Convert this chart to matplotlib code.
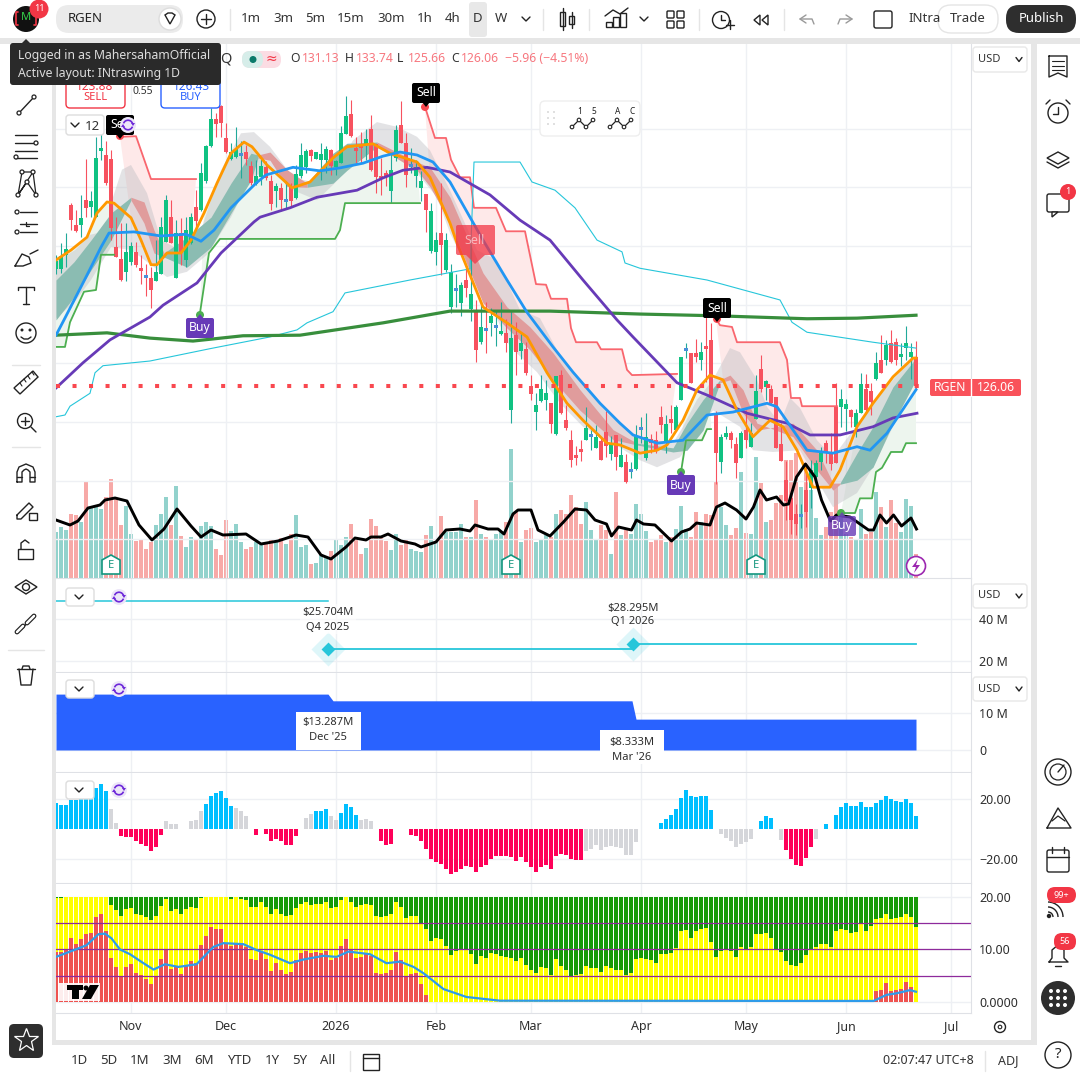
"""Daily RGEN chart screenshot rebuilt with matplotlib: candles, overlays, four lower panes, app chrome."""

import matplotlib

matplotlib.use("Agg")
import matplotlib.pyplot as plt  # noqa: E402
from matplotlib.patches import Arc, Circle, FancyBboxPatch, Polygon, Rectangle  # noqa: E402

plt.rcParams["font.family"] = ["Noto Sans", "DejaVu Sans"]

# ---- candles, one value per daily bar ----
OPEN = [146, 146, 148.5, 157, 153.6, 153.6, 157.8, 156.7, 155, 166.2,
        165.5, 164.8, 149.9, 147.7, 145.5, 147.3, 149, 146.2, 144.8, 144.5,
        144.1, 145.3, 150.7, 155, 144.6, 152.2, 147.6, 150.5, 156.7, 156.2,
        161.1, 167, 171.6, 173.8, 168.4, 164.8, 165.2, 165.3, 166, 163.6,
        160.6, 161.7, 163.4, 161, 159.4, 159.8, 157.5, 160, 158.1, 162,
        163.5, 166.4, 164.9, 164.7, 164.7, 166.4, 163.4, 164.2, 169.1, 172.5,
        166.6, 167.3, 167.3, 169.9, 167.3, 162, 162.4, 159.3, 165, 170.6,
        167.5, 163.4, 162, 159.8, 158.8, 149.2, 149, 152.2, 145.9, 139.6,
        142.3, 140.3, 144.2, 139.2, 138.8, 133.7, 135.6, 136.9, 136.1, 135,
        135.2, 122, 134.8, 132.1, 132.5, 126.1, 121.7, 123.6, 123.8, 123.3,
        117.9, 128, 120.4, 117, 114.4, 115.3, 117, 117.4, 115.6, 116.8,
        118.3, 114.5, 117.8, 112.4, 113.2, 111.5, 112, 118.7, 113.8, 117.1,
        117, 120.8, 116.6, 120.5, 118.6, 123.8, 132.1, 131.8, 131.7, 130.6,
        133, 134, 121.2, 113.2, 117.4, 118.2, 116.2, 113.8, 118.7, 115.8,
        120.6, 129.1, 126, 125.7, 124.2, 116.2, 110.2, 107, 104.4, 103.9,
        108.4, 108.7, 110.7, 113.2, 116.4, 114.9, 122.5, 122.6, 122.3, 122,
        119.2, 121.6, 125.7, 125.3, 127.3, 130.5, 130.6, 133.4, 133.7, 131.1,
        132.7, 131.1, 131.13]
HIGH = [148.5, 150.5, 152.2, 157.3, 156.1, 158.7, 164.9, 159.3, 168.6, 169.2,
        167.8, 166.4, 155, 153.9, 153.9, 150.7, 150.7, 148.5, 147, 146.5,
        151, 155, 158.7, 157.8, 154.4, 154.7, 155, 155.6, 159.6, 164.2,
        167.2, 173.5, 172.6, 174, 170.9, 167.5, 170.3, 167.8, 167.2, 164.4,
        164.6, 164.9, 164.4, 162.1, 160.7, 160.7, 161, 160.7, 163.8, 167.5,
        166.6, 166.5, 166, 167.5, 167, 166.6, 164.7, 170.5, 175.6, 174.9,
        168.6, 169.5, 169.9, 172.3, 167.3, 165, 163, 165.8, 170.6, 174.7,
        169.2, 166.7, 164.7, 162.7, 158.9, 157.3, 152.4, 160.7, 152.2, 147,
        145.3, 143.9, 146.2, 150.4, 140.8, 140.5, 140.5, 139.4, 139, 140.4,
        137.5, 139, 137.1, 135.1, 133.7, 128, 124.9, 128, 127.1, 123.3,
        127.8, 128.8, 122.9, 118.6, 115.9, 116.9, 122.5, 118.7, 119.5, 117.5,
        121.9, 117.6, 117.8, 117.2, 114.6, 113.2, 119.5, 120.9, 121.5, 118,
        118.5, 122.7, 121.2, 122.9, 122.9, 131, 133.4, 131.8, 134.1, 133.7,
        141.2, 136.8, 121.8, 117.9, 119.3, 118.5, 117.5, 118.4, 122, 119.8,
        128, 131.4, 127.2, 126.3, 124.3, 119.8, 113.4, 107.3, 106.1, 106.1,
        112.7, 113.5, 113.5, 115.8, 117, 118.1, 126.6, 125.7, 123.9, 122.3,
        122.3, 128.3, 128.2, 126.6, 132, 134.8, 133.9, 135.7, 134.3, 133.4,
        136.4, 133.4, 133.74]
LOW = [145.3, 145.4, 146.5, 152.7, 152.4, 151.6, 155, 155, 155, 164.7,
       160.4, 151, 148.2, 144, 144, 146.8, 146.5, 143.6, 141.4, 139.4,
       144, 145.2, 150.7, 150.5, 144.5, 146.8, 146.5, 150.3, 153.3, 156,
       160.7, 166.9, 168.6, 168.6, 165.8, 164.7, 165, 161.5, 163.8, 160.4,
       160.4, 160.4, 161.3, 156.1, 156.7, 156, 156.4, 156.7, 158, 161.5,
       162.5, 164.4, 164.8, 161.3, 162.4, 162.1, 162.1, 164.1, 169, 168.6,
       164.1, 164.1, 164.7, 162.7, 159, 158.7, 160.2, 157.3, 164.4, 167.6,
       160.1, 162.4, 160.1, 157.7, 152.4, 148.8, 146.8, 145, 145.6, 138.5,
       139.6, 138, 141.3, 137.2, 130.3, 133.3, 131.8, 134.6, 132.9, 134.9,
       132, 119.9, 128, 130.8, 128, 123.7, 118.6, 123.4, 122, 118.2,
       117.8, 121.3, 118.6, 112.4, 112.6, 113.4, 116.9, 115.2, 115.5, 113.5,
       114, 113.5, 111.8, 112.4, 109.6, 110.4, 111.8, 116.4, 113.5, 114.7,
       114.7, 118.1, 114.7, 118.1, 118.4, 123.7, 130.9, 126.7, 130.3, 128.9,
       126.9, 124, 109.4, 111.4, 117.1, 115.5, 110.4, 113.8, 115.5, 115.7,
       120.6, 125.2, 123.8, 122.9, 115.5, 113.4, 103.3, 101, 100.7, 102,
       102.2, 105.3, 109.8, 111.8, 113, 111.8, 113, 119.2, 118.4, 119.2,
       117.5, 121.5, 121.5, 121.2, 127.2, 128.3, 129.7, 130, 129.7, 129.6,
       130.6, 127.4, 125.66]
CLOSE = [147.5, 148.3, 149.4, 154.5, 152.5, 154.7, 156.4, 157.6, 165, 166.5,
         160.7, 153, 148.2, 144.2, 149, 150, 146.7, 145.7, 144.6, 142.5,
         145.6, 153.3, 157.8, 150.5, 152.2, 148.8, 152.7, 155, 154.2, 162.4,
         167, 171.6, 170.8, 171, 166, 166, 166.5, 165.6, 164.8, 160.7,
         162, 163.6, 161.5, 157.2, 160.3, 157.8, 157.6, 157.6, 162.3, 165.5,
         166.2, 165.4, 166, 165.7, 166.5, 163.7, 164.4, 169.2, 172.2, 168.8,
         166.2, 166.7, 168.2, 163, 161.7, 161.5, 162, 163, 169.8, 167.6,
         162.1, 163.5, 163.4, 161.1, 156.1, 156, 151, 150.2, 151, 145.5,
         142.3, 143.4, 142.9, 141.9, 132.2, 136.2, 135.5, 138, 136.2, 135.5,
         133.5, 134.4, 132, 133.4, 128.4, 124.8, 122.9, 125.7, 124.9, 119.6,
         127.8, 121.5, 119, 113.5, 113.8, 114.9, 119, 117.4, 117.4, 113.5,
         115.9, 116.2, 114, 114.4, 109.8, 111.6, 117.7, 118.8, 117.5, 116.5,
         115.1, 119.5, 119.7, 119.8, 122.6, 131, 132.2, 126.7, 131, 132,
         132.5, 124.1, 114.8, 117.4, 118.1, 117, 113, 118.2, 116.9, 118.1,
         125.3, 125.6, 127, 123.2, 115.5, 113.4, 106.6, 103.3, 102.7, 104,
         104.7, 111.8, 113.1, 114.9, 114.7, 112.8, 113, 123.9, 123.1, 120.9,
         121.6, 126.5, 122, 123.5, 130, 128.4, 133.2, 130.3, 130.6, 131.6,
         133.4, 132, 126.06]

VOLUME = [46, 51, 48, 64, 63, 56, 96, 71, 71, 69, 81, 99, 79, 53, 72, 44, 37, 39, 29, 36,
          53, 64, 81, 53, 92, 42, 31, 41, 38, 52, 56, 52, 29, 23, 58, 47, 54, 36, 29, 31,
          36, 33, 34, 39, 36, 40, 34, 44, 63, 31, 33, 14, 15, 24, 21, 27, 38, 33, 41, 54,
          39, 24, 30, 59, 52, 41, 37, 28, 44, 33, 39, 29, 27, 26, 43, 52, 36, 62, 46, 46,
          46, 54, 41, 41, 78, 44, 41, 38, 44, 46, 56, 129, 66, 36, 48, 50, 36, 38, 43, 41,
          64, 68, 64, 83, 71, 54, 76, 48, 39, 53, 48, 24, 86, 43, 48, 44, 74, 64, 47, 36,
          39, 43, 36, 41, 49, 72, 49, 41, 66, 56, 64, 63, 96, 71, 53, 43, 50, 106, 45, 44,
          121, 95, 56, 58, 75, 83, 118, 118, 125, 91, 129, 88, 60, 43, 51, 66, 91, 63, 44, 41,
          39, 69, 44, 46, 86, 71, 51, 78, 55, 46, 79, 72, 24]
VOL_MA_BAR = [0, 2.8, 4.4, 6.4, 8.8, 9.8, 11.8, 14.2, 16.6, 19.2, 21.6, 24.2, 27, 29, 31, 33.4, 38, 41,
              44.4, 48, 50.4, 53, 55, 58, 59.8, 62, 63, 65, 66.4, 69, 71.8, 73, 76, 78, 80.8, 82.8,
              83.8, 86.4, 88.4, 89.6, 91.4, 92.4, 95, 96.4, 98.8, 101.5, 103.8, 106.1, 107.8, 110.1,
              111.1, 112.5, 115.1, 116.1, 117.5, 119.8, 123.1, 125.1, 126.8, 128.1, 130.8, 132.1,
              133.8, 136.1, 138, 139.5, 140.8, 142.1, 144.1, 145.5, 146.5, 148.1, 149.9, 151.8,
              153.1, 154.9, 156.1, 158.8, 162.5, 163.5, 164.8, 166.1, 167.5, 169.1, 171, 172.1]
VOL_MA = [58, 53, 57, 70, 73, 78, 80, 77, 53, 38, 49, 69, 52, 41, 48, 43, 44, 34,
          37, 43, 41, 23, 19, 31, 40, 38, 41, 41, 44, 37, 34, 31, 36, 48, 49, 47,
          53, 49, 49, 44, 64, 68, 68, 48, 42, 56, 69, 68, 58, 54,
          42, 51, 48, 58, 54, 53, 37, 46, 49, 55, 53, 71,
          75, 68, 59, 71, 88, 78, 81, 73, 74, 101, 114, 101,
          78, 57, 63, 61, 48, 48, 63, 55, 63, 52, 60, 49]

# ---- moving averages and bands on the price pane: (bar, price) ----
BLUE_BAR = [0, 1.6, 6, 9, 10.6, 15.6, 21, 26, 29, 31.6, 35, 40, 42, 47.4, 52.8, 56.8, 61.4, 65.4, 68.8, 72.2,
            75.4, 78.8, 85.4, 90.2, 94.2, 99.4, 103.4, 108.8, 112.8, 115.4, 116.8, 120.2, 125.4, 130.2, 135.4,
            142.2, 144.2, 150.2, 155.4, 160.2, 162.8, 166.2, 172]
BLUE = [134.8, 137.4, 144.7, 149.8, 152.2, 152.4, 151.7, 152, 150.8, 152.7, 156.5, 160.7, 162.1, 163.4, 162.8,
        163.3, 164.1, 165.3, 166, 165.5, 164.3, 160.9, 151, 144.2, 138.7, 132.8, 128.5, 123.2, 119.8, 117.8,
        117.4, 116.4, 116.9, 121.2, 121.7, 123.2, 122.6, 115.2, 114.7, 115.8, 115.2, 118.1, 125.5]
ORANGE_BAR = [0, 3, 6.2, 8.2, 10.2, 11.6, 15, 17, 19, 20.2, 22.2, 25, 27, 29.6, 32.2, 35, 37.6, 39.2, 42.2, 47.2,
              50.8, 55.4, 58.2, 63.4, 66.8, 72.2, 74.8, 78.8, 80.2, 85.4, 90.2, 94.2, 98.2, 102.2, 105.4, 110.2,
              112.8, 116.8, 120.2, 122.2, 125.4, 128.2, 130.8, 133.4, 136.2, 139.4, 142.8, 145.4, 148.2, 151.4,
              154.8, 156.8, 160.2, 163.4, 167.4, 171.4, 172]
ORANGE = [147.6, 149.3, 151.5, 155.6, 157.5, 157.3, 154.8, 151, 146.8, 146.8, 148.8, 148.8, 151, 155.6, 160.7,
          165.8, 167.7, 166.9, 163.8, 159.9, 160.9, 165, 166.9, 167.4, 165.8, 164.3, 161.7, 153.9, 150.5, 139.6,
          136.9, 134.5, 128.4, 123.2, 120.3, 116.4, 116.1, 114.7, 115.2, 116.1, 120.3, 125.5, 128, 127.2, 122,
          117.5, 120.3, 119.2, 115.2, 108.9, 108.9, 111.8, 119.2, 123.2, 127.7, 130.9, 130.9]
PURPLE_BAR = [0, 5.4, 10.8, 18.8, 21.4, 28.2, 33, 39.6, 40.8, 46.8, 52.2, 60.2, 65.4, 69.4, 74.2, 78.8, 86.8, 92.8,
              98.8, 105.4, 112.2, 115.4, 124.2, 130.2, 138.2, 146.2, 150.8, 156.8, 163.4, 167.4, 172.2]
PURPLE = [125.8, 130.1, 134, 137.9, 139.9, 143.7, 148.8, 154.1, 154.9, 156.5, 158.3, 159.5, 161.6, 162.9, 163.4,
          162.6, 158.7, 154.4, 151, 144.2, 137.4, 134.5, 126.7, 124.6, 121.5, 119.8, 117.8, 117.8, 119.2, 120.7,
          121.5]
LONG_MA_BAR = [0, 10.2, 18.8, 27.4, 37.4, 48.8, 65.4, 78.8, 98.8, 116.8, 132.2, 150.2, 160.2, 172]
LONG_MA = [134.8, 135.2, 134.3, 133.8, 134.7, 134.8, 136.9, 138.9, 138.9, 138.4, 138.1, 137.6, 137.7, 138.2]
CYAN_BAR = [0, 1.8, 2.8, 6.8, 7.8, 9.4, 18.8, 30.8, 42.8, 48.2, 50.2, 55.4, 57.8, 70.8, 82.8, 83.6, 92.8, 95.2,
            99.8, 103.8, 108.2, 113.2, 113.8, 116.8, 130.2, 144.8, 147.2, 150.2, 163.4, 172]
CYAN = [120.9, 121.2, 122.7, 124.9, 128.4, 129.6, 130.4, 132.5, 134.5, 135.7, 136.9, 138.8, 142, 144.2, 146.1,
        164.3, 164.3, 160.9, 159.5, 156.5, 151, 149, 147.1, 146.2, 144.2, 140.8, 137, 135.3, 133.6, 132.6]

# trailing stops: one (bars, prices) pair per leg
RED_STOPS = [
    ([12.8, 16, 19, 28], [168.6, 168.7, 161.4, 161.4]),
    ([73.8, 75.8, 78, 79, 80.8, 82.8, 83.6, 88, 90, 93.8, 96, 98, 99, 102.2, 103, 104, 108.2, 109, 113.2, 114.2,
      115.2, 124.2],
     [173.7, 168.4, 168.4, 164.7, 161.7, 161.7, 156.5, 156.5, 152.5, 152.5, 143.5, 143.4, 141, 141, 136, 133.6,
      133.6, 132.4, 132.4, 128.9, 128, 128.2]),
    ([132, 132.8, 135.2, 136.2, 144.8, 146.2, 147, 148.8, 149.2, 156.2],
     [137.6, 136.5, 136.2, 133.6, 133.6, 130.6, 124.1, 124.1, 122.7, 122.7]),
]
GREEN_STOPS = [
    ([0, 1.8, 2.8, 5.6, 8, 9, 11.6], [132.8, 132.8, 137, 142.2, 142.5, 148.5, 148.5]),
    ([28.8, 30.6, 32.8, 55.8, 56.8, 57.8, 72.8], [138.6, 148.8, 151.2, 151.2, 152.7, 157.3, 157.3]),
    ([125, 126, 129.2, 130.2, 131], [111.5, 116.9, 116.9, 118.8, 118.8]),
    ([157, 159.8, 160.8, 163.2, 164, 165.2, 167, 169.2, 170, 172],
     [104.5, 104.5, 107, 107, 111.5, 112.2, 114.9, 114.9, 116.4, 116.4]),
]

# grey envelope around the ribbon
ENV_UP_BAR = [0, 3.8, 6.8, 10.8, 11.2, 13.2, 15, 18.2, 21, 26, 28.2, 33, 37, 39.6, 42.8, 47.4, 53.4, 55.8, 59.4, 64.2,
              68.2, 72.2, 74.8, 78.8, 84.2, 88.2, 92.8, 96.8, 100.2, 104.8, 110.2, 115.4, 116.8, 123.4, 125.4, 128.2,
              131.4, 134.8, 136.8, 140.2, 142.2, 144.8, 146.8, 148.8, 152.2, 155.4, 163.4, 167.4, 172]
ENV_UP = [147.3, 149.3, 151.9, 152.7, 157.8, 163, 163.8, 159, 151, 148.8, 150.7, 162.9, 169.2, 169.4, 166.9, 161.7,
          160.4, 162.4, 168, 171.1, 170.3, 168.6, 166.3, 159.5, 149.3, 147.6, 139.1, 137.7, 132.3, 127.2, 121.5,
          118.1, 117.4, 116.4, 119.2, 123.8, 127.2, 132.6, 131.9, 127.2, 122.6, 119.8, 124.1, 122.4, 116.9, 114,
          123.2, 127.2, 131.4]
ENV_LO_BAR = [172, 167.4, 163.4, 160.2, 155.4, 152.2, 148.8, 143.4, 139.4, 136.8, 131.4, 128.2, 124.8, 120.2, 116.8,
              111.4, 105.4, 100.8, 96.2, 90.8, 86.2, 80.8, 78.8, 76.2, 72.2, 65.4, 60.8, 55.4, 52.2, 47.4, 42.8,
              39, 35, 30.2, 26.2, 22.2, 19, 15, 11, 7, 3.6, 0]
ENV_LO = [127.2, 119.2, 112.3, 107.9, 105.5, 110.1, 115.2, 114.9, 115.2, 119.2, 122, 118.1, 114, 112.3, 113.5, 116.4,
          119.2, 123.2, 128.5, 132.8, 141.3, 148.8, 152.2, 158.3, 162.4, 166.9, 165.2, 160.4, 157.8, 159.5, 162.9,
          161.7, 154.9, 148.5, 145.6, 144.7, 146.8, 149.3, 149.8, 144.2, 140.3, 137.7]

# ribbon legs: bars, upper edge, lower edge
TEAL_LEGS = [
    ([0, 3.6, 7, 11, 15], [144.2, 147.3, 151, 155.6, 158.3], [137.4, 141.3, 145.9, 151, 157.8]),
    ([21.6, 26.2, 31, 35, 39, 40.4], [148.8, 151.5, 154.9, 160.7, 165.8, 165.5], [148.1, 146.4, 149.8, 155.6, 161.2, 165]),
    ([50.2, 55.4, 58.2, 64.2], [160.7, 165.8, 167.5, 167.7], [160, 160.7, 162.9, 166.9]),
    ([116.2, 123.4, 126.2, 129.4, 132.8], [116.4, 115.6, 119.8, 123.8, 127.2], [116.1, 114.9, 115.2, 118.6, 126.7]),
    ([156.8, 160.2, 163.4, 167.4, 172], [109.6, 114.7, 119.2, 126, 130.9], [109.4, 110.1, 112.3, 119.8, 127.2]),
]
ROSE_LEGS = [
    ([15, 17.6, 19.6, 21.6], [158.3, 157.5, 152.7, 148.8], [157.8, 153.9, 148.8, 148.1]),
    ([40.4, 42.8, 46.2, 50.2], [165.5, 166, 163, 160.7], [165, 164.6, 160.1, 160]),
    ([64.2, 72.2, 74.8, 78.8, 85.4, 90.2, 94.8, 99.4, 104.8, 111.4, 116.2],
     [167.7, 164.3, 163.4, 158.3, 145.4, 139.6, 136.2, 131.8, 125.5, 118.7, 116.4],
     [166.9, 162.9, 160.1, 153.9, 140.3, 136, 132.3, 127.2, 122, 117, 116.1]),
    ([132.8, 134.8, 137.4, 140.2, 142.8], [127.2, 128, 125.5, 119.8, 119], [126.7, 127.2, 121.5, 118.6, 119]),
    ([142.8, 147.4, 152.2, 155.4, 156.8], [119, 119.8, 115.2, 109.6, 109.6], [119, 117.5, 111.8, 108.4, 109.4]),
]

LAST_PRICE = 126.06
PRICE_TICKS = [100, 110, 120, 130, 140, 150, 160, 170]
MONTH_BARS = [15, 34, 56, 76, 95, 117, 138, 158, 179]
MONTH_LABELS = ["Nov", "Dec", "2026", "Feb", "Mar", "Apr", "May", "Jun", "Jul"]

# ---- revenue and net income steps ----
REVENUE_OLD_BAR = [0, 54.4]
REVENUE_OLD = [48.6, 48.6]
REVENUE_BAR = [54.4, 115.4, 115.4, 172]
REVENUE = [25.704, 25.704, 28.295, 28.295]
REVENUE_MARK_BAR = [54.4, 115.4]
REVENUE_MARK = [25.704, 28.295]
INCOME_BAR = [0, 54.4, 55.4, 115.2, 116, 172]
INCOME = [15.1, 15.1, 13.287, 13.287, 8.333, 8.333]

# ---- momentum histogram ----
MOMENTUM = [17.3, 16.2, 16.2, 19.6, 19.6, 20.7, 21, 23, 27, 30, 25, 13.6, 4, -4.4, -5.6, -5.6, -7.8, -9.8, -11.6, -14.4,
            -12.2, -4.2, 5.1, 3.6, 3.6, 0, 0, 5.6, 6.2, 11.8, 16.9, 21.8, 24, 25.6, 20.9, 15.6, 14, 11.8, 8.9, 0,
            -3.8, 0, -3.1, -8.2, -6.7, -8.2, -11, -11, -4.9, 0, 7.3, 10.2, 12.2, 12.2, 13.6, 8.9, 6.2, 10.9, 16.9, 14.4,
            9.6, 6.2, 6.9, 5.1, 0, -7.8, -11, -9.8, 0, 0, 0, -3.8, -4.4, -8.2, -13.1, -19.8, -22, -23.3, -26.4, -29.8,
            -28.9, -26.7, -24.4, -25.3, -28.9, -25.3, -24.2, -19.8, -17.8, -17.8, -17.8, -18.7, -21.1, -18.9, -22.2,
            -25.6, -28.9, -25.6, -24.2, -26.4, -17.8, -16.4, -17.1, -19.8, -20.9, -20.4, -14.9, -13.1, -11, -13.8,
            -11.8, -11.3, -12, -12.7, -17.1, -17.1, -8.9, 0, 0, 0, 0, 4, 6.7, 9.6, 13.3, 20.9, 26.2, 22.2, 21.3, 22.2,
            22.2, 12.9, 0, -3.3, -6, -8.2, -12.2, -9.8, -8.9, -6.7, 0, 5.6, 8.9, 7.6, 0, -7.1, -13.8, -19.8, -23.8,
            -24.4, -19.1, -12.2, -6.4, 0, 3.6, 0, 9.6, 14.9, 17.3, 15.6, 15.6, 18.2, 14.9, 14.9, 17.3, 19.6, 22.2, 20.2,
            18.9, 18.2, 20.2, 17.6, 8.9]
MOMENTUM_GREY = [11, 12, 22, 23, 24, 27, 28, 29, 36, 37, 38, 50, 51, 55, 56, 61, 62, 63,
                 106, 107, 108, 109, 110, 111, 112, 113, 114, 115, 116,
                 133, 134, 135, 136, 137, 138, 139, 145, 152]

# ---- stacked column oscillator, red from zero, yellow above it, green up to 20 ----
STACK_RED = [9.6, 9.6, 9.9, 12.1, 11, 12, 13, 13.1, 16.1, 16.7, 13.5, 8.3, 6.6, 4.9, 6.6, 7.3, 5.5, 5.2, 4.5, 3.5,
             4.9, 8.2, 10, 6.3, 6.9, 5.4, 7.1, 7.8, 7.4, 10.8, 12.6, 14.2, 13.9, 13.9, 11.3, 10.7, 11.2, 11.2, 10.5, 8.2,
             8, 9.6, 8.2, 5.9, 7.5, 6.1, 5.4, 5.7, 8, 9.4, 9.7, 9.3, 9.5, 9.3, 9.8, 8.1, 8.3, 10.7, 12, 9.9,
             8.3, 8.6, 9.3, 8.8, 5.6, 5.4, 5.6, 6.1, 9.6, 8.1, 4.9, 5.4, 5.6, 3.5, 1.4] + [0.1] * 89 + \
            [2.1, 2.3, 3.6, 2.1, 2.3, 2.6, 3.8, 2.9, 0.1]
STACK_YELLOW = [19.7, 19.7, 20, 20, 20, 20, 20, 20, 20, 20, 20, 18.4, 17.5, 16.4, 17.6, 17.9, 16.7, 16.5, 16.1, 15.6,
                16.4, 18.3, 19.5, 17.2, 17.7, 16.7, 17.7, 18.1, 17.9, 19.8, 20, 20, 20, 20, 20, 19.6, 20, 19.6, 19.4, 18.1,
                18.1, 18.9, 18.1, 16.7, 17.7, 16.8, 16.4, 16.5, 17.9, 18.6, 19, 18.5, 18.7, 18.6, 18.9, 17.9, 18.1, 19.4, 20, 19,
                18.1, 18.4, 18.7, 18.4, 16.3, 16.2, 16.4, 16.7, 18.9, 18, 16, 16.3, 16.4, 15, 13.8, 11.6, 12.1, 12, 10.7, 9,
                9.7, 10, 9.9, 9.1, 7.3, 8.8, 8.3, 9.4, 9.2, 8.8, 8.6, 8.3, 7.8, 8.3, 7.1, 6.1, 5.5, 6.6, 6.4, 5.2,
                8.2, 6.8, 6.1, 4.9, 5.2, 5.4, 6.9, 6.5, 6.4, 5.7, 6.8, 6.5, 6.1, 6.1, 5.2, 5.6, 8.2, 8.4, 8.2, 8,
                7.5, 9.2, 9.2, 9.4, 10.3, 13.5, 13.7, 12.2, 13.5, 13.9, 14.1, 11.4, 8.6, 9.8, 9.9, 9.7, 8.6, 10.5, 10.1, 10.5,
                12.9, 12.9, 13.1, 12.2, 9.9, 9.5, 7.8, 7.1, 6.9, 7.4, 9, 9.9, 10.5, 11, 11, 10.5, 13.5, 13.9, 13.7, 13.1,
                13.3, 14.8, 13.5, 14.4, 15.8, 16, 16.7, 15.8, 16, 16.2, 16.7, 16.2, 14.3]
STACK_LINE_BAR = [0, 2.8, 6.1, 8.5, 9.8, 11.1, 12.8, 14.8, 17.5, 19.5, 21.8, 24.5, 28.1, 31.5, 33.5, 37.5, 40.1, 42.8,
                  46.8, 49.5, 53.5, 56.1, 58.5, 62.8, 66.1, 68.8, 71.5, 73.5, 77.5, 82.1, 88.8, 163.5, 166.1, 168.1,
                  170.8, 172]
STACK_LINE = [8.6, 9.6, 10.8, 12.9, 13, 12.1, 10, 9.1, 7.4, 6.2, 7.2, 6.7, 7.2, 10.5, 11.2, 11, 9.9, 9, 7.4, 8.1, 8.8,
              8.6, 9.6, 9.1, 7.4, 7.7, 6.7, 5.5, 2.5, 1, 0.3, 0.25, 1.4, 1.7, 2.3, 2]
STACK_LEVELS = [15, 10, 5]

FIG_PX = 1080
GRID = "#eef0f4"
LABEL = "#2e2e2e"
SEP = "#e6e6e6"
UP = "#10c282"
UP_WICK = "#22a99a"
DOWN = "#f7525f"
ICON = "#222222"

fig = plt.figure(figsize=(10.8, 10.8), dpi=100, facecolor="white")


def pane(top, bottom, ylim, ticks, labels):
    """Axes sharing one bar scale, placed between two pixel rows, with the scale on the right."""
    ax = fig.add_axes([56 / FIG_PX, 1 - bottom / FIG_PX, 915 / FIG_PX, (bottom - top) / FIG_PX])
    ax.set_xlim(0, 183)
    ax.set_ylim(*ylim)
    ax.yaxis.tick_right()
    ax.set_yticks(ticks, labels, fontsize=9, color=LABEL)
    ax.set_xticks(MONTH_BARS, [])
    ax.tick_params(length=0, pad=6)
    ax.grid(True, color=GRID, lw=1)
    ax.set_axisbelow(True)
    for side in ax.spines:
        ax.spines[side].set_visible(False)
    ax.spines["right"].set_visible(True)
    ax.spines["right"].set_color("#dfe1e6")
    ax.spines["bottom"].set_visible(True)
    ax.spines["bottom"].set_color("#dfe1e6")
    return ax


def zone(ax, bars, prices, color):
    """Pale fill between a stop leg and the fast average."""
    back = [(b, p) for b, p in zip(ORANGE_BAR, ORANGE) if bars[0] <= b <= bars[-1]]
    xs = list(bars) + [b for b, _ in reversed(back)]
    ys = list(prices) + [p for _, p in reversed(back)]
    ax.fill(xs, ys, color=color, lw=0, zorder=1.4)


# ---- price pane ----
vol_ax = fig.add_axes([56 / FIG_PX, 1 - 578 / FIG_PX, 915 / FIG_PX, 536 / FIG_PX])
vol_ax.set_xlim(0, 183)
vol_ax.set_ylim(0, 536)
vol_ax.axis("off")
vol_ax.set_zorder(1)

price = pane(42, 578, (93.43, 184.75), PRICE_TICKS, [f"{p:.2f}" for p in PRICE_TICKS])
price.set_zorder(2)
price.patch.set_alpha(0)

bars = list(range(len(CLOSE)))
vol_colors = ["#92d2cc" if c >= o else "#f7a9a7" for o, c in zip(OPEN, CLOSE)]
vol_ax.bar(bars, VOLUME, width=0.76, color=vol_colors, lw=0)

for leg_bars, leg_prices in RED_STOPS:
    zone(price, leg_bars, leg_prices, "#fee9e9")
for leg_bars, leg_prices in GREEN_STOPS:
    zone(price, leg_bars, leg_prices, "#edf5ee")
price.fill(ENV_UP_BAR + ENV_LO_BAR, ENV_UP + ENV_LO, color="#bdbdc2", alpha=0.42, lw=0, zorder=1.5)
for leg_bars, upper, lower in TEAL_LEGS:
    price.fill_between(leg_bars, upper, lower, color="#8bbcb2", lw=0, zorder=1.6)
for leg_bars, upper, lower in ROSE_LEGS:
    price.fill_between(leg_bars, upper, lower, color="#e09c9c", lw=0, zorder=1.6)

for i, (o, h, l, c) in enumerate(zip(OPEN, HIGH, LOW, CLOSE)):
    doji = abs(c - o) <= 0.3
    wick = UP_WICK if c >= o else DOWN
    body = "#4a90d9" if doji else (UP if c >= o else DOWN)
    price.vlines(i, l, h, color=wick, lw=0.8, zorder=2)
    price.bar(i, max(abs(c - o), 0.5), bottom=min(o, c), width=0.62, color=body, lw=0, zorder=2.1)

for leg_bars, leg_prices in RED_STOPS:
    price.plot(leg_bars, leg_prices, color="#f9666e", lw=1.3, zorder=2.5)
for leg_bars, leg_prices in GREEN_STOPS:
    price.plot(leg_bars, leg_prices, color="#4caf50", lw=1.3, zorder=2.5)
price.plot(CYAN_BAR, CYAN, color="#26c6da", lw=0.8, zorder=2.6)
price.plot(LONG_MA_BAR, LONG_MA, color="#388e3c", lw=2.3, zorder=2.7)
price.plot(PURPLE_BAR, PURPLE, color="#673ab7", lw=2, zorder=2.8)
price.plot(ORANGE_BAR, ORANGE, color="#ff9800", lw=2, zorder=2.9)
price.plot(BLUE_BAR, BLUE, color="#2196f3", lw=2, zorder=3)
price.axhline(LAST_PRICE, color="#f9484f", lw=2.9, ls=(0, (1, 3.1)), zorder=3.1)

line_ax = price.twinx()
line_ax.set_ylim(0, 536)
line_ax.axis("off")
line_ax.plot(VOL_MA_BAR, VOL_MA, color="black", lw=2.1, zorder=5)

# ---- revenue pane ----
rev = pane(579, 672, (14.76, 59.05), [20, 40], ["20 M", "40 M"])
rev.plot(REVENUE_OLD_BAR, REVENUE_OLD, color="#26c6da", lw=1.1)
rev.plot(REVENUE_BAR, REVENUE, color="#26c6da", lw=1.3)
rev.scatter(REVENUE_MARK_BAR, REVENUE_MARK, marker="D", s=300, color="#26c6da", alpha=0.15, lw=0, zorder=3)
rev.scatter(REVENUE_MARK_BAR, REVENUE_MARK, marker="D", s=50, color="#26c6da", lw=0, zorder=4)

# ---- net income pane ----
income = pane(673, 772, (-5.95, 20.8), [0, 10], ["0", "10 M"])
income.fill_between(INCOME_BAR, INCOME, 0, color="#2962ff", lw=0, zorder=2)

# ---- momentum pane ----
mom = pane(773, 883, (-36, 37.33), [-20, 20], ["\u221220.00", "20.00"])
mom_colors = ["#d5d6da" if i in MOMENTUM_GREY else ("#00bfff" if v > 0 else "#ff0059") for i, v in enumerate(MOMENTUM)]
mom.bar(bars, MOMENTUM, width=0.76, color=mom_colors, lw=0, zorder=2)

# ---- stacked pane ----
stack = pane(884, 1013, (-2.03, 22.4), [0, 10, 20], ["0.0000", "10.00", "20.00"])
stack.bar(bars, [20] * len(bars), width=0.76, color="#169a07", lw=0, zorder=2)
stack.bar(bars, STACK_YELLOW, width=0.76, color="#ffff00", lw=0, zorder=2.1)
stack.bar(bars, STACK_RED, width=0.76, color="#ef5350", lw=0, zorder=2.2)
for level in STACK_LEVELS:
    stack.axhline(level, color="#8e2a9c", lw=0.9, zorder=2.5)
stack.plot(STACK_LINE_BAR, STACK_LINE, color="#2e9bea", lw=1.6, zorder=3)
stack.set_xticks(MONTH_BARS, MONTH_LABELS, fontsize=9, color=LABEL)
stack.tick_params(axis="x", pad=5)
stack.get_xticklabels()[2].set_fontweight("bold")

# ---- chrome, drawn in screen pixels on a top layer ----
ui = fig.add_axes([0, 0, 1, 1], zorder=10)
ui.set_xlim(0, FIG_PX)
ui.set_ylim(FIG_PX, 0)
ui.axis("off")
ui.patch.set_alpha(0)


def box(x0, y0, x1, y1, fc="white", ec="none", r=0, lw=1, alpha=1, z=3):
    if r:
        patch = FancyBboxPatch((x0 + r, y0 + r), x1 - x0 - 2 * r, y1 - y0 - 2 * r, boxstyle=f"round,pad={r}",
                               fc=fc, ec=ec, lw=lw, alpha=alpha, zorder=z)
    else:
        patch = Rectangle((x0, y0), x1 - x0, y1 - y0, fc=fc, ec=ec, lw=lw, alpha=alpha, zorder=z)
    ui.add_patch(patch)


def line(xs, ys, color=ICON, lw=1, z=4):
    ui.plot(xs, ys, color=color, lw=lw, zorder=z, solid_capstyle="round")


def ring(x, y, r, ec=ICON, fc="none", lw=1, z=4):
    ui.add_patch(Circle((x, y), r, fc=fc, ec=ec, lw=lw, zorder=z))


def label(x, y, s, size=9, color=LABEL, ha="center", weight="normal", z=5, alpha=1):
    ui.text(x, y, s, fontsize=size, color=color, ha=ha, va="center", fontweight=weight, zorder=z, alpha=alpha)


def chevron(x, y, w=4, color=ICON):
    line([x - w, x, x + w], [y - 2, y + 2, y - 2], color=color, lw=1)


def sync_icon(x, y, z=6):
    ring(x, y, 8, ec="none", fc="#ece6f8", z=z)
    for start in (20, 200):
        ui.add_patch(Arc((x, y), 9.5, 9.5, theta1=start, theta2=start + 140, color="#6d28d9", lw=1.2, zorder=z + 1))
    ui.add_patch(Polygon([(x + 3, y - 2), (x + 7, y - 2), (x + 5, y + 1)], fc="#6d28d9", ec="none", zorder=z + 1))
    ui.add_patch(Polygon([(x - 3, y + 2), (x - 7, y + 2), (x - 5, y - 1)], fc="#6d28d9", ec="none", zorder=z + 1))


def bubble(x, y, s, fc="#673ab7", up=True, w=14, alpha=1):
    """Signal label with a small pointer towards its dot."""
    box(x - w, y - 10, x + w, y + 10, fc=fc, r=2, alpha=alpha, z=6)
    tip = y - 14 if up else y + 14
    base = y - 9 if up else y + 9
    ui.add_patch(Polygon([(x - 4, base), (x + 4, base), (x, tip)], fc=fc, ec="none", zorder=6, alpha=alpha))
    label(x, y, s, size=8.8, color="white", z=7)


# frame
box(0, 38, FIG_PX, 44, fc=SEP)
box(52, 38, 56, 1045, fc=SEP)
box(1031, 38, 1037, 1045, fc=SEP)
box(52, 1040, 1037, 1045, fc=SEP)
box(0, 0, FIG_PX, 38, z=2)
box(0, 38, 52, FIG_PX, z=2)
box(1037, 38, FIG_PX, FIG_PX, z=2)
box(0, 1045, FIG_PX, FIG_PX, z=2)
box(1028, 44, 1031, 1040, z=2)

# top bar
ring(26, 19, 13, ec="none", fc="#111111")
label(26, 18, "M", size=8, color="#35d04a", weight="bold")
line([18, 16, 16, 18], [12, 12, 25, 25], color="#f23645", lw=1.2, z=6)
line([34, 36, 36, 34], [12, 12, 25, 25], color="#f23645", lw=1.2, z=6)
ring(39, 9, 9.5, ec="none", fc="#f23645", z=5)
label(39, 8.5, "11", size=6.5, color="white", z=6)
box(56, 5, 183, 33, fc="#ebebeb", r=13)
label(68, 19, "RGEN", size=9.5, color="#222222", ha="left", weight="bold")
ring(170, 19, 11, ec="#dddddd", fc="white")
ui.add_patch(Polygon([(165, 15), (168, 13), (172, 13), (175, 15), (170, 24)], fc="none", ec=ICON, lw=1, zorder=5))
ring(206, 19, 9, lw=1)
line([201, 211], [19, 19])
line([206, 206], [14, 24])
line([230, 230], [9, 30], color="#e5e5e5")
box(469, 2, 487, 37, fc="#e8e8e8", r=3)
for x, s in zip([251, 283, 315, 351, 391, 425, 453, 477, 501],
                ["1m", "3m", "5m", "15m", "30m", "1h", "4h", "D", "W"]):
    label(x, 19, s, size=9.5, color="#333333")
chevron(526, 19)
line([543, 543], [9, 30], color="#e5e5e5")
box(560, 12, 565, 26, fc="white", ec=ICON)
line([562.5, 562.5], [8, 30])
box(569, 16, 574, 24, fc="white", ec=ICON)
line([571.5, 571.5], [12, 28])
line([589, 589], [9, 30], color="#e5e5e5")
for x0, y0 in [(606, 22), (613, 17), (620, 13)]:
    box(x0, y0, x0 + 6, 27, fc="white", ec=ICON)
line([605, 613, 620, 628], [16, 10, 14, 8])
chevron(644, 19)
for x0, y0 in [(667, 11), (677, 11), (667, 21), (677, 21)]:
    box(x0, y0, x0 + 7, y0 + 7, fc="white", ec=ICON, r=1)
line([699, 699], [9, 30], color="#e5e5e5")
ring(721, 20, 8.5)
line([721, 721, 725], [15, 20, 20])
line([730, 730], [20, 29])
line([726, 734], [25, 25])
ui.add_patch(Polygon([(754, 20), (760, 15), (760, 25)], fc="white", ec=ICON, lw=1, zorder=4))
ui.add_patch(Polygon([(762, 20), (768, 15), (768, 25)], fc="white", ec=ICON, lw=1, zorder=4))
line([784, 784], [9, 30], color="#e5e5e5")
line([806, 800, 806], [15, 19, 23], color="#9a9a9a")
line([800, 812, 814], [19, 19, 24], color="#9a9a9a")
line([846, 852, 846], [15, 19, 23], color="#9a9a9a")
line([852, 840, 838], [19, 19, 24], color="#9a9a9a")
box(874, 11, 892, 28, fc="white", ec=ICON, r=2)
label(908, 19, "INtra", size=9.5, color="#333333", ha="left")
box(938, 5, 998, 33, fc="white", ec="#e5e5e5", r=13)
label(968, 19, "Trade", size=9.5, color="#333333")
box(1006, 5, 1076, 33, fc="#2e2e2e", r=13)
label(1041, 19, "Publish", size=9.5, color="white")

# legend row
label(226, 59, "Q", size=10.5, color="#333333")
box(242, 51, 281, 68, fc="#fbdce3", r=8)
box(242, 51, 263, 68, fc="#d6ede9", r=8)
ring(253, 59.5, 3.5, ec="none", fc="#0b7a6a")
label(271, 59, "\u2248", size=10, color="#f23645")
for x, s, c in [(290, "O", "#333333"), (302, "131.13", "#f7777f"), (345, "H", "#333333"), (356, "133.74", "#f7777f"),
                (397, "L", "#333333"), (408, "125.66", "#f7777f"), (451, "C", "#333333"), (461, "126.06", "#f7777f"),
                (505, "\u22125.96 (\u22124.51%)", "#f7777f")]:
    label(x, 59, s, size=8.8, color=c, ha="left")

# buy and sell buttons under the login tip
box(66, 80, 125, 108, fc="white", ec="#f23645", r=4)
box(161, 80, 220, 108, fc="white", ec="#2962ff", r=4)
label(95, 98, "SELL", size=8, color="#f23645")
label(191, 98, "BUY", size=8, color="#2962ff")
label(143, 91, "0.55", size=7.5, color="#333333")
label(95, 86, "123.88", size=8.5, color="#f23645", weight="bold")
label(191, 86, "126.43", size=8.5, color="#2962ff", weight="bold")
box(10, 43, 221, 85, fc="#2a2a2a", r=3, z=8)
ui.add_patch(Polygon([(21, 44), (31, 44), (26, 39)], fc="#2a2a2a", ec="none", zorder=8))
label(18, 55, "Logged in as MahersahamOfficial", size=8.8, color="#dddddd", ha="left", z=9)
label(18, 73, "Active layout: INtraswing 1D", size=8.8, color="#dddddd", ha="left", z=9)
box(66, 115, 104, 135, fc="white", ec="#dddddd", r=3)
chevron(75, 125)
label(92, 126, "12", size=9.5, color="#333333")

# floating drawing toolbar
box(540, 101, 640, 136, fc="white", ec="#eeeeee", r=5)
for x in (548, 554):
    for y in (112, 118, 124):
        ring(x, y, 0.9, ec="none", fc="#cfcfcf")
for x0, t0, t1 in [(572, "1", "5"), (610, "A", "C")]:
    line([x0, x0 + 7, x0 + 14, x0 + 21], [127, 120, 127, 120], lw=0.9)
    for k, yy in enumerate((127, 120, 127, 120)):
        ring(x0 + 7 * k, yy, 1.8, fc="white", lw=0.8, z=5)
    label(x0 + 8, 111, t0, size=6, color="#222222", weight="bold")
    label(x0 + 22, 111, t1, size=6, color="#222222", weight="bold")

# signals
for x, y in [(120, 136), (425, 107), (717, 319)]:
    ring(x, y, 4, ec="none", fc="#f9484f", z=5)
for x, y in [(200, 315), (681, 472), (841, 513)]:
    ring(x, y, 4, ec="none", fc="#4caf50", z=5)
bubble(120, 125, "Sell", fc="black", up=False)
sync_icon(128, 125, z=8)
bubble(426, 93, "Sell", fc="black", up=False)
bubble(717, 308, "Sell", fc="black", up=False)
box(456, 225, 495, 255, fc="#f23645", r=2, alpha=0.75, z=6)
ui.add_patch(Polygon([(466, 255), (485, 255), (475, 264)], fc="#f23645", ec="none", alpha=0.75, zorder=6))
label(475, 240, "Sell", size=9, color="white", alpha=0.55, z=7)
bubble(200, 328, "Buy")
bubble(681, 485, "Buy")
bubble(842, 526, "Buy", alpha=0.8)

# earnings badges
for x in (111, 511, 756):
    ui.add_patch(Polygon([(x - 9, 560), (x, 555), (x + 9, 560), (x + 9, 574), (x - 9, 574)],
                         fc="white", ec="#14967f", lw=1.2, zorder=5))
    label(x, 566, "E", size=8, color="#14967f", weight="bold", z=6)
ring(916, 566, 9.5, ec="#9c27b0", fc="white", lw=1.2)
ui.add_patch(Polygon([(918, 559), (912, 567), (916, 567), (914, 573), (920, 565), (916, 565)],
                     fc="#9c27b0", ec="none", zorder=5))

# pane controls
for y in (597, 689, 790):
    box(66, y - 9, 94, y + 9, fc="white", ec="#dddddd", r=3)
    chevron(79, y)
    sync_icon(119, y)

# value callouts
box(300, 604, 356, 634, z=4, fc="white", alpha=0.6)
label(328, 613, "$25.704M", size=8)
label(328, 627, "Q4 2025", size=8)
label(633, 608, "$28.295M", size=8)
label(633, 622, "Q1 2026", size=8)
box(296, 712, 361, 750, fc="white")
label(328, 723, "$13.287M", size=8)
label(328, 738, "Dec '25", size=8)
box(600, 730, 664, 764, fc="white")
label(632, 742, "$8.333M", size=8)
label(632, 757, "Mar '26", size=8)

# price scale extras
for y0, y1 in [(47, 72), (584, 608), (677, 701)]:
    box(973, y0, 1027, y1, fc="white", ec="#e8e8e8", r=3)
    label(978, (y0 + y1) / 2, "USD", size=8, color="#333333", ha="left")
    chevron(1019, (y0 + y1) / 2, w=3)
box(930, 379, 1021, 396, fc="#f9525a", r=2)
line([971, 971], [379, 396], color="white")
label(950, 387.5, "RGEN", size=8.8, color="white")
label(996, 387.5, "126.06", size=8.8, color="white")
box(58, 983, 100, 1001, fc="white", alpha=0.9, z=4)
box(67, 985, 83, 990, fc="black", z=5)
box(72, 985, 79, 999, fc="black", z=5)
ring(86, 988, 2.5, ec="none", fc="black", z=5)
ui.add_patch(Polygon([(90, 985), (99, 985), (91, 999), (82, 999)], fc="black", ec="none", zorder=5))

# left toolbar
line([19, 34], [113, 97], lw=1)
ring(19, 113, 2, fc="white", lw=0.9, z=5)
ring(34, 97, 2, fc="white", lw=0.9, z=5)
for y in (135, 143, 151, 158):
    line([15, 37], [y, y])
ring(36, 143, 2, fc="white", lw=0.9, z=5)
ring(16, 157, 2, fc="white", lw=0.9, z=5)
line([18, 22, 33, 36, 27, 18, 33], [195, 172, 172, 195, 182, 195, 172], lw=0.9)
for x, y in [(18, 195), (22, 172), (33, 172), (36, 195), (27, 182)]:
    ring(x, y, 2, fc="white", lw=0.9, z=5)
for y in (212, 224, 232):
    line([20, 37], [y, y])
ring(17, 212, 2, fc="white", lw=0.9, z=5)
ring(17, 232, 2, fc="white", lw=0.9, z=5)
line([26, 26, 29], [222, 226, 226], lw=0.9)
line([15, 22, 29, 31, 23, 15], [266, 254, 257, 263, 266, 266])
line([30, 38], [254, 250])
line([18, 18, 34, 34], [290, 287, 287, 290])
line([26, 26], [287, 304])
line([23, 29], [304, 304])
ring(26, 333, 10)
ring(22, 330, 0.8, fc=ICON)
ring(30, 330, 0.8, fc=ICON)
line([21, 24, 28, 31], [337, 339, 339, 337])
ui.add_patch(Polygon([(14, 388), (33, 371), (38, 377), (20, 394)], fc="none", ec=ICON, lw=1, zorder=4))
for x, y in [(20, 383), (24, 379), (28, 376), (32, 372)]:
    line([x, x + 2], [y, y + 3], lw=0.8)
line([12, 40], [365, 365], color="#e5e5e5")
ring(25, 421, 7.5)
line([31, 36], [427, 432])
line([21, 29], [421, 421])
line([25, 25], [417, 425])
line([12, 40], [447, 447], color="#e5e5e5")
line([17, 17, 19, 26, 33, 35, 35, 30, 30, 28, 26, 24, 22, 22, 17],
     [482, 472, 467, 464, 467, 472, 482, 482, 472, 470, 469, 470, 472, 482, 482])
line([17, 22], [477, 477])
line([30, 35], [477, 477])
line([17, 29, 33, 21, 17, 17], [515, 503, 507, 519, 519, 515])
box(29, 513, 37, 520, fc="white", ec=ICON)
box(18, 549, 33, 559, fc="white", ec=ICON)
line([21, 21, 25, 29], [549, 543, 540, 543])
ui.add_patch(Polygon([(15, 587), (26, 580), (37, 587), (26, 594)], fc="none", ec=ICON, lw=1, zorder=4, closed=True))
ring(26, 587, 3.5)
line([17, 23], [632, 626], lw=3.5)
line([17, 23], [632, 626], lw=1.8, color="white", z=5)
line([27, 34], [623, 616], lw=3.5)
line([27, 34], [623, 616], lw=1.8, color="white", z=5)
line([22, 29], [629, 621], lw=0.9)
line([8, 44], [650, 650], color="#e5e5e5")
line([17, 35], [669, 669])
line([19, 21, 31, 33], [669, 685, 685, 669])
line([22, 23, 29, 30], [669, 666, 666, 669])
box(9, 1024, 43, 1058, fc="#2e2e2e", r=5)
ui.plot([26], [1040], marker="*", ms=18, mfc="none", mec="white", mew=0.9, zorder=5)

# right toolbar
line([1049, 1049, 1058, 1067, 1067, 1049], [56, 77, 73, 77, 56, 56])
for y in (61, 66, 70):
    line([1052, 1064], [y, y], lw=0.8)
ring(1058, 113, 10)
line([1058, 1058, 1053], [107, 114, 114])
line([1046, 1050], [104, 100])
line([1066, 1070], [100, 104])
ui.add_patch(Polygon([(1047, 158), (1058, 152), (1069, 158), (1058, 164)], fc="none", ec=ICON, lw=1, zorder=4))
line([1047, 1058, 1069], [162, 168, 162])
box(1047, 194, 1069, 212, fc="white", ec=ICON, r=2)
ui.add_patch(Polygon([(1052, 212), (1052, 217), (1058, 212)], fc="white", ec=ICON, lw=1, zorder=5))
ring(1068, 192, 8, ec="none", fc="#f23645", z=6)
label(1068, 192, "1", size=6.5, color="white", z=7)
ring(1058, 772, 13)
ring(1058, 772, 8, lw=0.9)
line([1058, 1064], [772, 765])
line([1047, 1058, 1064, 1071, 1047], [828, 808, 817, 828, 828])
line([1052, 1058, 1065], [821, 816, 821], lw=0.9)
box(1047, 850, 1069, 872, fc="white", ec=ICON, r=2)
line([1047, 1069], [857, 857])
line([1052, 1052], [847, 853])
line([1064, 1064], [847, 853])
for r in (15, 10, 5):
    ui.add_patch(Arc((1048, 917), 2 * r, 2 * r, theta1=270, theta2=360, color=ICON, lw=1, zorder=4))
ring(1049, 916, 1.5, fc=ICON)
box(1047, 887, 1076, 903, fc="#f23645", r=8, z=6)
label(1061, 895, "99+", size=6.5, color="white", z=7)
line([1049, 1052, 1052, 1058, 1064, 1064, 1068, 1049], [962, 958, 950, 945, 950, 958, 962, 962])
line([1055, 1061], [966, 966])
box(1054, 933, 1076, 950, fc="#f23645", r=8, z=6)
label(1065, 941.5, "56", size=6.5, color="white", z=7)
ring(1058, 998, 17, ec="none", fc="#2e2e2e")
for dx in (-7, 0, 7):
    for dy in (-7, 0, 7):
        ring(1058 + dx, 998 + dy, 2, ec="none", fc="white", z=5)
ring(1058, 1055, 13)
label(1058, 1055, "?", size=11, color=ICON)

# time axis and range bar
ring(1000, 1027, 5.5)
ring(1000, 1027, 1.8, lw=0.8)
for x, s in zip([79, 109, 140, 172, 204, 239, 272, 300, 328],
                ["1D", "5D", "1M", "3M", "6M", "YTD", "1Y", "5Y", "All"]):
    label(x, 1061, s, size=9.5, color="#333333")
line([350, 350], [1051, 1071], color="#e5e5e5")
box(363, 1054, 379, 1070, fc="white", ec=ICON)
line([363, 379], [1058, 1058])
label(974, 1061, "02:07:47 UTC+8", size=9, color="#333333", ha="right")
line([985, 985], [1051, 1071], color="#e5e5e5")
label(1008, 1061, "ADJ", size=9, color="#333333")

fig.savefig("out.png", dpi=100)
